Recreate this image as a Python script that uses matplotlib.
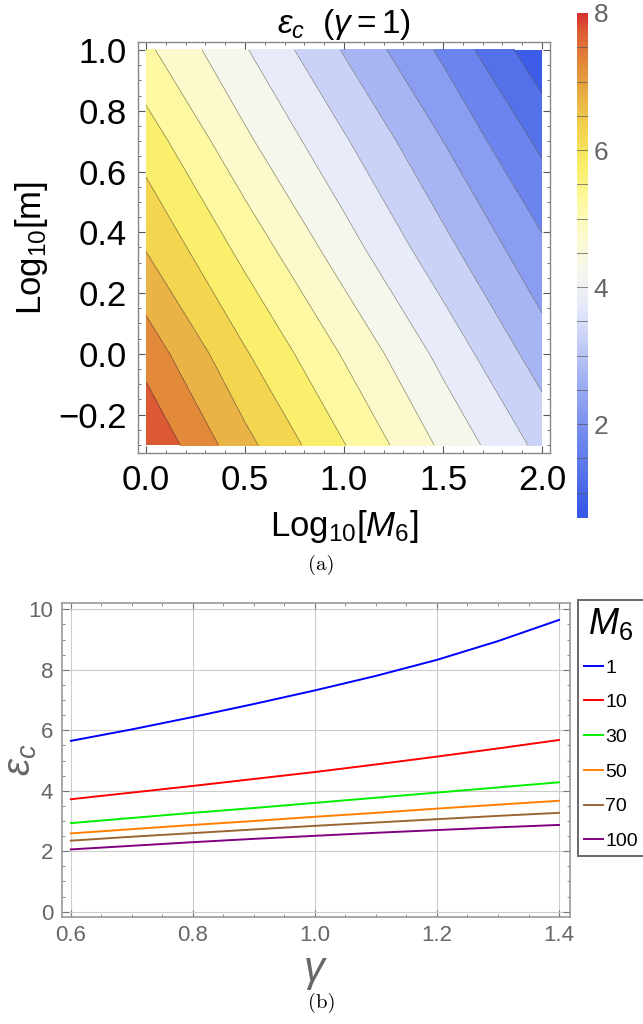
import numpy as np
import matplotlib
matplotlib.use("Agg")
import matplotlib.pyplot as plt
from matplotlib.colors import LinearSegmentedColormap, Normalize
from matplotlib.cm import ScalarMappable
from matplotlib.ticker import MultipleLocator

plt.rcParams["font.family"] = ["Liberation Sans", "DejaVu Sans"]
plt.rcParams["mathtext.fontset"] = "custom"
plt.rcParams["mathtext.rm"] = "Liberation Sans"
plt.rcParams["mathtext.it"] = "Liberation Sans:italic"

# (a) eps_c on a grid of Log10[M6] (columns) and Log10[m] (rows), gamma = 1
log_M6 = [0.0, 0.5, 1.0, 1.5, 2.0]
log_m = [-0.3, 0.0, 0.35, 0.7, 1.0]
eps_grid = [
    [7.95, 6.65, 5.52, 4.40, 3.35],
    [7.30, 6.05, 4.95, 3.85, 2.75],
    [6.47, 5.33, 4.22, 3.15, 2.10],
    [5.76, 4.60, 3.56, 2.50, 1.38],
    [5.10, 4.04, 2.96, 1.90, 0.65],
]
eps_min, eps_max = 0.63, 8.0
contour_levels = [1.0, 1.5, 2.0, 2.5, 3.0, 3.5, 4.0, 4.5, 5.0, 5.5, 6.0, 6.5, 7.0, 7.5]
cbar_ticks = [2, 4, 6, 8]

# (b) eps_c against gamma for several M6
gamma = [0.6, 0.7, 0.8, 0.9, 1.0, 1.1, 1.2, 1.3, 1.4]
M6_labels = ["1", "10", "30", "50", "70", "100"]
eps_M1 = [5.65, 6.03, 6.44, 6.87, 7.32, 7.80, 8.33, 8.95, 9.65]
eps_M10 = [3.72, 3.94, 4.16, 4.39, 4.62, 4.87, 5.13, 5.40, 5.68]
eps_M30 = [2.93, 3.10, 3.27, 3.43, 3.60, 3.77, 3.94, 4.11, 4.28]
eps_M50 = [2.59, 2.73, 2.87, 3.00, 3.14, 3.27, 3.41, 3.54, 3.67]
eps_M70 = [2.35, 2.48, 2.60, 2.72, 2.84, 2.95, 3.06, 3.17, 3.27]
eps_M100 = [2.06, 2.18, 2.30, 2.41, 2.51, 2.61, 2.70, 2.79, 2.87]
curves = [eps_M1, eps_M10, eps_M30, eps_M50, eps_M70, eps_M100]
curve_colors = ["#0000ff", "#ff0000", "#00ee00", "#ff8000", "#996633", "#800080"]

# temperature-like colour scale, anchored at values
anchor_vals = [0.63, 0.815, 1.25, 1.75, 2.25, 2.75, 3.25, 3.75, 4.25, 4.75,
               5.25, 5.75, 6.25, 6.75, 7.25, 7.75, 8.0]
anchor_cols = ["#3656e6", "#3e5de8", "#5572ea", "#6d86ee", "#8a9df1", "#a8b6f4",
               "#c9d2f7", "#e7ebfa", "#f5f6ec", "#fcfacd", "#fdf8a2", "#f9ef6c",
               "#f3d650", "#eab445", "#e38a3a", "#db5c33", "#d5302d"]
cmap = LinearSegmentedColormap.from_list(
    "temp", [((v - eps_min) / (eps_max - eps_min), c)
             for v, c in zip(anchor_vals, anchor_cols)])
norm = Normalize(eps_min, eps_max)

fig = plt.figure(figsize=(6.43, 10.24), dpi=100)

# ---------- top: contour map ----------
ax1 = fig.add_axes([138 / 643, 1 - 453 / 1024, 412 / 643, 411 / 1024])
X, Y = np.meshgrid(log_M6, log_m)
Z = np.array(eps_grid)
fill_levels = [eps_min] + contour_levels + [eps_max]
ax1.contourf(X, Y, Z, levels=fill_levels, cmap=cmap, norm=norm)
ax1.contour(X, Y, Z, levels=contour_levels, colors="#3a3a3a",
            linewidths=0.5, alpha=0.6)
ax1.set_xlim(-0.0404, 2.0404)
ax1.set_ylim(-0.326, 1.026)
ax1.xaxis.set_major_locator(MultipleLocator(0.5))
ax1.xaxis.set_minor_locator(MultipleLocator(0.1))
ax1.yaxis.set_major_locator(MultipleLocator(0.2))
ax1.yaxis.set_minor_locator(MultipleLocator(0.05))
ax1.xaxis.set_major_formatter(lambda v, p: f"{v:.1f}".replace("-", "\u2212"))
ax1.yaxis.set_major_formatter(lambda v, p: f"{v:.1f}".replace("-", "\u2212"))
ax1.tick_params(which="both", direction="in", top=True, right=True,
                color="#555555", labelsize=25, pad=8)
ax1.tick_params(which="major", length=5, width=0.8)
ax1.tick_params(which="minor", length=2.5, width=0.6)
for s in ax1.spines.values():
    s.set_color("#888888")
    s.set_linewidth(1.0)
ax1.set_xlabel("Log$_{10}$[$M_6$]", fontsize=25, labelpad=8)
ax1.set_ylabel("Log$_{10}$[m]", fontsize=25, labelpad=6)
ax1.set_title(r"$\mathit{ε}_{\mathit{c}}\ \ (\mathit{γ} = 1)$", fontsize=24, pad=5)

cax = fig.add_axes([577 / 643, 1 - 518 / 1024, 11 / 643, 505 / 1024])
cb = fig.colorbar(ScalarMappable(norm=norm, cmap=cmap), cax=cax, ticks=cbar_ticks)
cb.outline.set_visible(False)
for lv in contour_levels:
    cax.axhline(lv, color="#555555", lw=0.6, alpha=0.8)
cax.tick_params(length=0, labelsize=19, labelcolor="#666666", pad=4)

fig.text(0.5, 1 - 565 / 1024, "(a)", fontsize=15, fontfamily="cmr10",
         ha="center", va="center")

# ---------- bottom: eps_c vs gamma ----------
ax2 = fig.add_axes([61.7 / 643, 1 - 917 / 1024, 508.3 / 643, 314.3 / 1024])
for vals, col, lab in zip(curves, curve_colors, M6_labels):
    ax2.plot(gamma, vals, color=col, lw=1.4, label=lab)
ax2.set_xlim(0.585, 1.418)
ax2.set_ylim(-0.175, 10.22)
ax2.xaxis.set_major_locator(MultipleLocator(0.2))
ax2.xaxis.set_minor_locator(MultipleLocator(0.05))
ax2.yaxis.set_major_locator(MultipleLocator(2))
ax2.yaxis.set_minor_locator(MultipleLocator(0.5))
ax2.xaxis.set_major_formatter(lambda v, p: f"{v:.1f}")
ax2.grid(True, which="major", color="#cccccc", lw=0.8)
ax2.tick_params(which="both", direction="in", top=True, right=True,
                color="#777777", labelsize=16, labelcolor="#666666", pad=6)
ax2.tick_params(which="major", length=5, width=0.8)
ax2.tick_params(which="minor", length=2.5, width=0.6)
for s in ax2.spines.values():
    s.set_color("#999999")
    s.set_linewidth(1.2)
ax2.set_xlabel(r"$\mathit{γ}$", fontsize=30, color="#666666", labelpad=4)
ax2.set_ylabel(r"$\mathit{ε}_{\mathit{c}}$", fontsize=28, color="#666666")
ax2.yaxis.set_label_coords(-0.045, 0.5)

leg = fig.legend(loc="upper left", bbox_to_anchor=(578 / 643, 1 - 600 / 1024),
                 title="$M_6$", title_fontsize=26, fontsize=14, frameon=True,
                 fancybox=False, edgecolor="#444444", handlelength=1.0,
                 handletextpad=0.1, labelspacing=0.88, borderpad=0.3,
                 borderaxespad=0)
leg.get_frame().set_linewidth(1.4)

fig.text(0.5, 1 - 1003 / 1024, "(b)", fontsize=15, fontfamily="cmr10",
         ha="center", va="center")

fig.savefig("out.png", dpi=100)
